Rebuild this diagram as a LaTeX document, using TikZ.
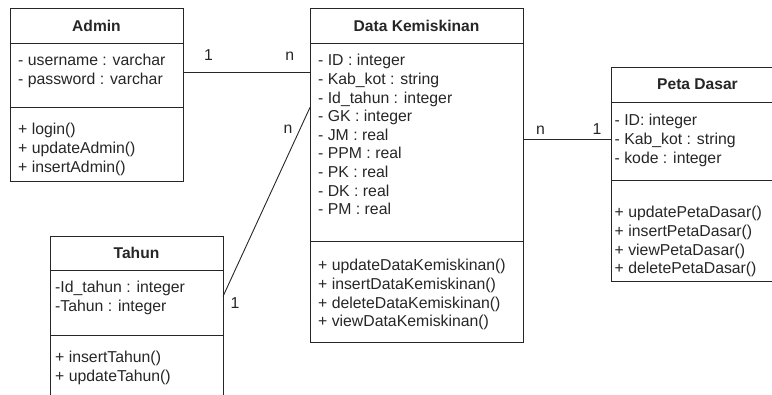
\documentclass[tikz,border=0pt]{standalone}
\usepackage{fontspec}
\setmainfont{Liberation Sans}
\usetikzlibrary{positioning,calc}

\begin{document}
\begin{tikzpicture}[x=1pt, y=-1pt,
        compart/.style={draw=black!85, line width=0.9pt, inner sep=0pt, outer sep=0pt},
        titlebox/.style={compart, font=\fontsize{15.6}{18.7}\selectfont\bfseries, text=black!85},
        member/.style={anchor=base west, inner sep=0pt, font=\fontsize{15.8}{18.6}\selectfont, text=black!85},
        mult/.style={inner sep=0pt, text height=11pt, text depth=0pt, font=\fontsize{15.8}{18.6}\selectfont, text=black!85},
        link/.style={draw=black!85, line width=0.9pt}]
        \useasboundingbox (0,0) rectangle (772,395);
        \clip (0,0) rectangle (772,395);

        % Admin
        \node[titlebox, anchor=north west, minimum width=173pt, minimum height=35pt] (admin) at (10,8) {Admin};
        \node[compart, below=0pt of admin, minimum width=173pt, minimum height=64pt] (adminattr) {};
        \node[compart, below=0pt of adminattr, minimum width=173pt, minimum height=74pt] (adminop) {};
        \foreach \m [count=\i from 0] in {- username : varchar, - password : varchar}
            \node[member] at ($(adminattr.north west)+(8,23+18.6*\i)$) {\m};
        \foreach \m [count=\i from 0] in {+ login(), + updateAdmin(), + insertAdmin()}
            \node[member] at ($(adminop.north west)+(8,28+18.6*\i)$) {\m};

        % Data Kemiskinan
        \node[titlebox, anchor=north west, minimum width=213pt, minimum height=35pt] (data) at (310,8) {Data Kemiskinan};
        \node[compart, below=0pt of data, minimum width=213pt, minimum height=198pt] (dataattr) {};
        \node[compart, below=0pt of dataattr, minimum width=213pt, minimum height=101pt] (dataop) {};
        \foreach \m [count=\i from 0] in {- ID : integer, - Kab\_kot : string, - Id\_tahun : integer, - GK : integer, - JM : real, - PPM : real, - PK : real, - DK : real, - PM : real}
            \node[member] at ($(dataattr.north west)+(8,23+18.6*\i)$) {\m};
        \foreach \m [count=\i from 0] in {+ updateDataKemiskinan(), + insertDataKemiskinan(), + deleteDataKemiskinan(), + viewDataKemiskinan()}
            \node[member] at ($(dataop.north west)+(8,30+18.6*\i)$) {\m};

        % Tahun
        \node[titlebox, anchor=north west, minimum width=173pt, minimum height=34pt] (tahun) at (50,236) {Tahun};
        \node[compart, below=0pt of tahun, minimum width=173pt, minimum height=65pt] (tahunattr) {};
        \node[compart, below=0pt of tahunattr, minimum width=173pt, minimum height=70pt] (tahunop) {};
        \foreach \m [count=\i from 0] in {-Id\_tahun : integer, -Tahun : integer}
            \node[member] at ($(tahunattr.north west)+(5,23+18.6*\i)$) {\m};
        \foreach \m [count=\i from 0] in {+ insertTahun(), + updateTahun()}
            \node[member] at ($(tahunop.north west)+(5,28+18.6*\i)$) {\m};

        % Peta Dasar
        \node[titlebox, anchor=north west, minimum width=173pt, minimum height=35pt] (peta) at (611,67) {Peta Dasar};
        \node[compart, below=0pt of peta, minimum width=173pt, minimum height=78pt] (petaattr) {};
        \node[compart, below=0pt of petaattr, minimum width=173pt, minimum height=101pt] (petaop) {};
        \foreach \m [count=\i from 0] in {- ID: integer, - Kab\_kot : string, - kode : integer}
            \node[member] at ($(petaattr.north west)+(3.5,24+18.6*\i)$) {\m};
        \foreach \m [count=\i from 0] in {+ updatePetaDasar(), + insertPetaDasar(), + viewPetaDasar(), + deletePetaDasar()}
            \node[member] at ($(petaop.north west)+(3.5,38+18.6*\i)$) {\m};

        \draw[link] (adminattr.2) -- node[mult, pos=0.2, yshift=17pt] {1} node[mult, pos=0.84, yshift=17pt] {n} (adminattr.2 -| dataattr.west);
        \draw[link] (petaattr.179 -| dataattr.east) -- node[mult, pos=0.2, yshift=10pt] {n} node[mult, pos=0.84, yshift=10pt] {1} (petaattr.179);
        \draw[link] (tahunattr.4) -- node[mult, pos=0, xshift=12pt, yshift=-6.5pt] {1} node[mult, pos=1, xshift=-22pt, yshift=-20.6pt] {n} (dataattr.162);
    \end{tikzpicture}
\end{document}
